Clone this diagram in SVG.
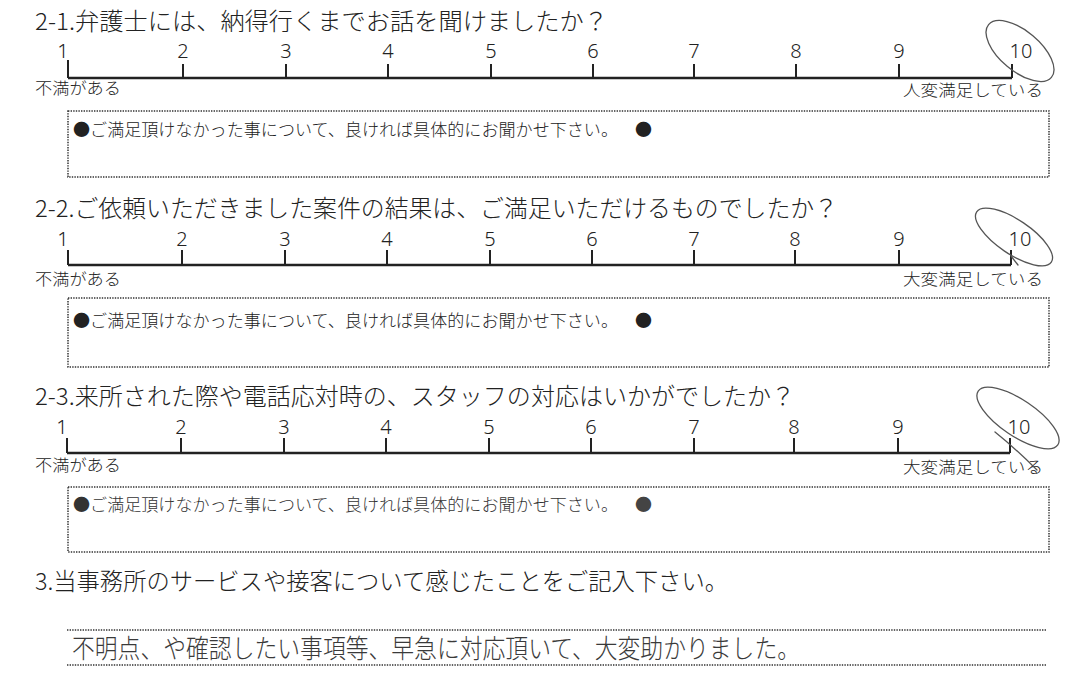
<svg xmlns="http://www.w3.org/2000/svg" width="1090" height="687" viewBox="0 0 1090 687">
<defs>
<style>
.t{font-family:"Noto Sans CJK JP","Noto Sans CJK SC",sans-serif;fill:#222;font-weight:300}
.title{font-size:23.5px}
.num{font-family:"Noto Sans","DejaVu Sans",sans-serif;font-size:20px;fill:#222;text-anchor:middle;font-weight:300}
.lbl{font-size:15.5px}
.box{font-size:17px}
.axis{stroke:#222;stroke-width:2.5;fill:none}
.tick{stroke:#222;stroke-width:2;fill:none}
.dot{fill:none;stroke:#333;stroke-width:1.5;stroke-dasharray:1.4 1.2}
.pen{fill:none;stroke:#555;stroke-width:1.3;stroke-linecap:round}
.hand{font-family:"Noto Sans CJK JP",sans-serif;font-size:26px;fill:#3a3a3a;font-weight:300}
</style>
</defs>
<rect width="1090" height="687" fill="#fff"/>

<g id="q2-1">
<text class="t title" x="35" y="30" textLength="573" lengthAdjust="spacingAndGlyphs">2-1.弁護士には、納得行くまでお話を聞けましたか？</text>
<g id="scale1">
<path class="axis" d="M68 78H1012"/>
<path class="tick" d="M68 60V78M183 64V78M286 64V78M388 64V78M491 64V78M593 64V78M694 64V78M796 64V78M899 64V78M1012 64V78"/>
<text class="num" y="58"><tspan x="63">1</tspan><tspan x="183">2</tspan><tspan x="286">3</tspan><tspan x="388">4</tspan><tspan x="491">5</tspan><tspan x="593">6</tspan><tspan x="694">7</tspan><tspan x="796">8</tspan><tspan x="899">9</tspan><tspan x="1021">10</tspan></text>
<text class="t lbl" x="35" y="94" textLength="86" lengthAdjust="spacingAndGlyphs">不満がある</text>
<text class="t lbl" x="903" y="96" textLength="140" lengthAdjust="spacingAndGlyphs">人変満足している</text>
<ellipse class="pen" cx="1020" cy="51" rx="41" ry="20" transform="rotate(40 1020 51)"/>
</g>
<g id="box1">
<rect class="dot" x="68" y="111" width="981" height="66"/>
<text class="t box" x="73" y="136" textLength="545" lengthAdjust="spacingAndGlyphs">●ご満足頂けなかった事について、良ければ具体的にお聞かせ下さい。</text>
<text class="t box" x="635" y="136">●</text>
</g>
</g>

<g id="q2-2">
<text class="t title" x="35" y="217" textLength="803" lengthAdjust="spacingAndGlyphs">2-2.ご依頼いただきました案件の結果は、ご満足いただけるものでしたか？</text>
<g id="scale2">
<path class="axis" d="M68 265H1011"/>
<path class="tick" d="M68 250V265M182 250V265M285 250V265M387 250V265M490 250V265M592 250V265M694 250V265M795 250V265M899 250V265M1011 250V265"/>
<text class="num" y="246"><tspan x="63">1</tspan><tspan x="182">2</tspan><tspan x="285">3</tspan><tspan x="387">4</tspan><tspan x="490">5</tspan><tspan x="592">6</tspan><tspan x="694">7</tspan><tspan x="795">8</tspan><tspan x="899">9</tspan><tspan x="1020">10</tspan></text>
<text class="t lbl" x="35" y="285" textLength="86" lengthAdjust="spacingAndGlyphs">不満がある</text>
<text class="t lbl" x="903" y="285" textLength="140" lengthAdjust="spacingAndGlyphs">大変満足している</text>
<ellipse class="pen" cx="1014" cy="237" rx="45" ry="17" transform="rotate(34 1014 237)"/>
<path class="pen" d="M1011 256L1018 265"/>
</g>
<g id="box2">
<rect class="dot" x="68" y="298" width="981" height="69"/>
<text class="t box" x="73" y="327" textLength="545" lengthAdjust="spacingAndGlyphs">●ご満足頂けなかった事について、良ければ具体的にお聞かせ下さい。</text>
<text class="t box" x="635" y="327">●</text>
</g>
</g>

<g id="q2-3">
<text class="t title" x="35" y="405" textLength="760" lengthAdjust="spacingAndGlyphs">2-3.来所された際や電話応対時の、スタッフの対応はいかがでしたか？</text>
<g id="scale3">
<path class="axis" d="M67 453H1010"/>
<path class="tick" d="M67 438V453M181 438V453M284 438V453M386 438V453M489 438V453M591 438V453M694 438V453M794 438V453M898 438V453M1010 438V453"/>
<text class="num" y="434"><tspan x="62">1</tspan><tspan x="181">2</tspan><tspan x="284">3</tspan><tspan x="386">4</tspan><tspan x="489">5</tspan><tspan x="591">6</tspan><tspan x="694">7</tspan><tspan x="794">8</tspan><tspan x="898">9</tspan><tspan x="1019">10</tspan></text>
<text class="t lbl" x="35" y="471" textLength="86" lengthAdjust="spacingAndGlyphs">不満がある</text>
<text class="t lbl" x="903" y="473" textLength="140" lengthAdjust="spacingAndGlyphs">大変満足している</text>
<ellipse class="pen" cx="1018" cy="418" rx="48" ry="18" transform="rotate(34 1018 418)"/>
<path class="pen" d="M995 432Q1015 448 1037 470"/>
</g>
<g id="box3">
<rect class="dot" x="68" y="487" width="981" height="65"/>
<text class="t box" x="73" y="511" textLength="545" lengthAdjust="spacingAndGlyphs" style="fill:#333">●ご満足頂けなかった事について、良ければ具体的にお聞かせ下さい。</text>
<text class="t box" x="635" y="511" style="fill:#444">●</text>
</g>
</g>

<g id="q3">
<text class="t title" x="35" y="590" textLength="693" lengthAdjust="spacingAndGlyphs">3.当事務所のサービスや接客について感じたことをご記入下さい。</text>
<g id="answer">
<path class="dot" d="M67 630H1047M67 665H1047"/>
<text class="hand" x="72" y="658" textLength="728" lengthAdjust="spacingAndGlyphs">不明点、や確認したい事項等、早急に対応頂いて、大変助かりました。</text>
</g>
</g>
</svg>
